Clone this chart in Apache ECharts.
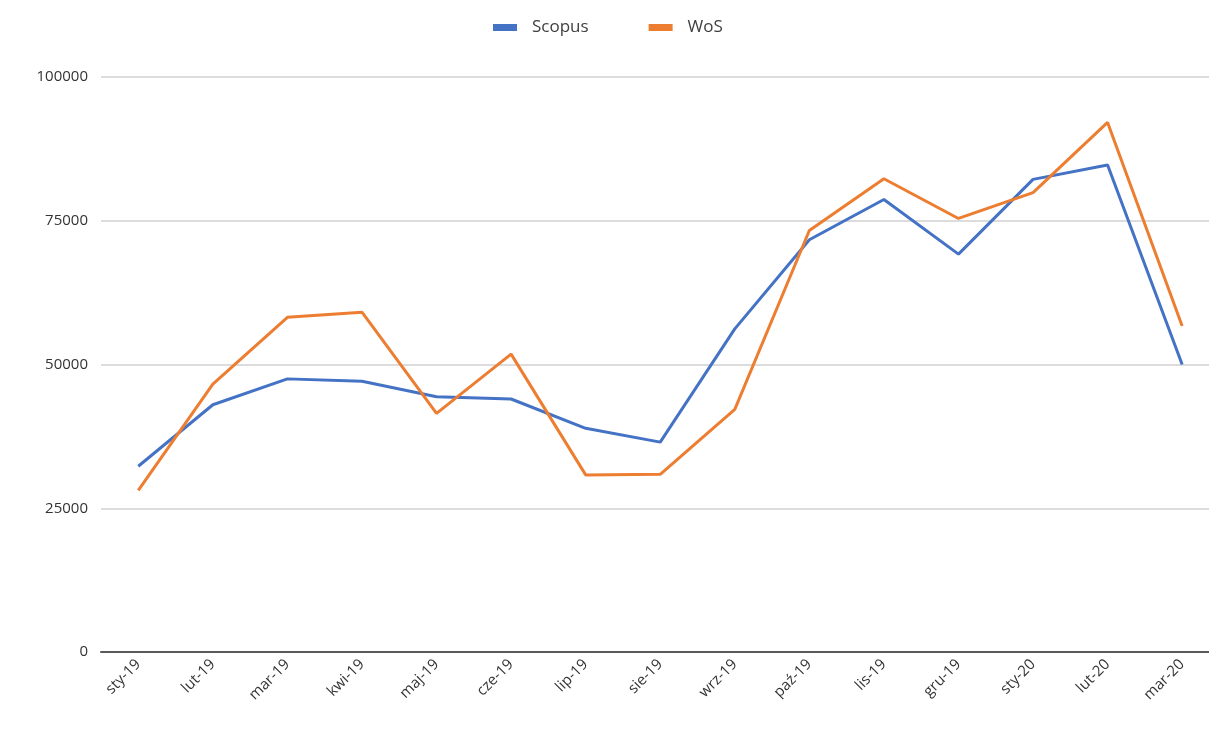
<!DOCTYPE html>
<html>
<head>
<meta charset="utf-8">
<script src="https://cdn.jsdelivr.net/npm/echarts@6/dist/echarts.min.js"></script>
<style>
  html, body { margin: 0; padding: 0; background: #fff; }
  #main { width: 1209px; height: 735px; }
</style>
</head>
<body>
<div id="main"></div>
<script>
// dane
var months = ['sty-19', 'lut-19', 'mar-19', 'kwi-19', 'maj-19', 'cze-19', 'lip-19', 'sie-19',
  'wrz-19', 'paź-19', 'lis-19', 'gru-19', 'sty-20', 'lut-20', 'mar-20'];
var scopus = [32300, 43000, 47500, 47100, 44400, 44000, 38900, 36500,
  56200, 71700, 78700, 69200, 82200, 84700, 50000];
var wos = [28100, 46600, 58200, 59100, 41500, 51800, 30800, 30900,
  42200, 73300, 82300, 75400, 79900, 92100, 56700];
var yTicks = [0, 25000, 50000, 75000, 100000];

// index miesiąca -> pozycja na osi x
function pairs(arr) {
  return arr.map(function (v, i) { return [i, v]; });
}
var idx = months.map(function (m, i) { return i; });

var chartContainer = document.getElementById("main");
var myChart = echarts.init(chartContainer);
myChart.setOption({
  animation: false,
  textStyle: { fontFamily: 'Open Sans' },
  legend: {
    data: ['Scopus', 'WoS'],
    top: 14,
    left: 488,
    itemWidth: 24,
    itemHeight: 7,
    itemGap: 60,
    icon: 'rect',
    textStyle: { fontSize: 17, color: '#404040', padding: [0, 0, 0, 10] }
  },
  grid: {  // obszar wykresu
    left: 101,
    top: 77,
    right: 0,
    height: 575
  },
  xAxis: {
    type: 'value',
    min: -0.5,
    max: 14.36,
    splitLine: { show: false },
    axisTick: { show: false },
    axisLine: { lineStyle: { color: '#595959', width: 2 } },
    axisLabel: {
      customValues: idx,
      rotate: 45,
      fontSize: 15,
      color: '#333',
      margin: 10,
      formatter: function (v) { return months[Math.round(v)]; }
    }
  },
  yAxis: {
    type: 'value',
    min: yTicks[0],
    max: yTicks[yTicks.length - 1],
    interval: 25000,
    axisLine: { show: false },
    axisTick: { show: false },
    axisLabel: {
      fontSize: 15, color: '#333', margin: 13,
      formatter: function (v) { return String(v); }
    },
    splitLine: { lineStyle: { color: '#d0d0d0', width: 1.5 } }
  },
  series: [{
    name: 'Scopus',
    type: 'line',
    data: pairs(scopus),
    symbol: 'none',
    itemStyle: { color: '#4472C4' },
    lineStyle: { color: '#4472C4', width: 3 }
  }, {
    name: 'WoS',
    type: 'line',
    data: pairs(wos),
    symbol: 'none',
    itemStyle: { color: '#ED7D31' },
    lineStyle: { color: '#ED7D31', width: 3 }
  }]
});
</script>
</body>
</html>
